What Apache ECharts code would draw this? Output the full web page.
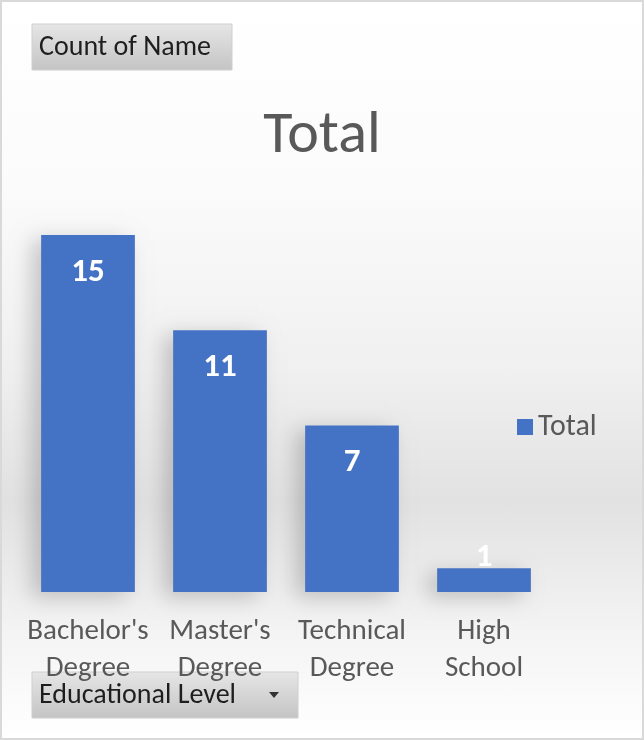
<!DOCTYPE html>
<html><head><meta charset="utf-8">
<script src="https://cdn.jsdelivr.net/npm/echarts@6/dist/echarts.min.js"></script>
<style>
html,body{margin:0;padding:0;background:#fff;}
#wrap{position:absolute;left:0;top:0;width:640px;height:736px;border:2px solid #d9d9d9;
background:linear-gradient(to bottom,#ffffff 0%,#fbfbfb 25%,#f0f0f0 50%,#e2e2e2 68%,#f3f3f3 85%,#ffffff 100%);}
#chart{width:640px;height:736px;}
</style></head>
<body><div id="wrap"><div id="chart"></div></div>
<script>
const categories = ["Bachelor's Degree", "Master's Degree", "Technical Degree", "High School"];
const totals = [15, 11, 7, 1];
const seriesName = "Total";
const FONT = "Carlito, 'Liberation Sans Narrow', 'DejaVu Sans Condensed', sans-serif";

const chart = echarts.init(document.getElementById('chart'), null, {renderer:'canvas'});
const data = totals.map(v => v < 3 ? {value: v, label: {position: 'top', distance: -6}} : v);

function button(x, y, w, h, text, arrow) {
  const children = [
    {type:'rect', shape:{x:0,y:0,width:w,height:h},
     style:{fill:new echarts.graphic.LinearGradient(0,0,0,1,[{offset:0,color:'#e6e6e6'},{offset:1,color:'#c4c4c4'}]), stroke:'#cfcfcf', lineWidth:1}},
    {type:'text', x:7, y:h/2+1, style:{text:text, font:'28px '+FONT, fill:'#1e1e1e', textVerticalAlign:'middle'}}
  ];
  if (arrow) children.push({type:'polygon', shape:{points:[[w-29,h/2-3],[w-19,h/2-3],[w-24,h/2+3]]}, style:{fill:'#333'}});
  return {type:'group', x:x, y:y, z:100, children:children};
}

chart.setOption({
  animation:false,
  backgroundColor:'transparent',
  title:{text:'Total', left:'center', top:100, textStyle:{fontFamily:FONT, fontSize:60, fontWeight:'normal', color:'#595959'}},
  legend:{left:510, top:405, itemWidth:16, itemHeight:16, itemGap:8,
    textStyle:{fontFamily:FONT, fontSize:30, color:'#595959'}, data:[seriesName], icon:'rect'},
  grid:{left:20, right:92, top:233, bottom:146},
  xAxis:{type:'category', data:categories, axisLine:{show:false}, axisTick:{show:false},
    axisLabel:{fontFamily:FONT, fontSize:29, color:'#595959', lineHeight:37, margin:21, interval:0,
      formatter: s => s.replace(' ', '\n')}},
  yAxis:{type:'value', min:0, max:15, show:false, splitLine:{show:false}},
  series:[{name:seriesName, type:'bar', data:data, barWidth:'71%',
    itemStyle:{color:'#4472c4', shadowColor:'rgba(0,0,0,0.2)', shadowBlur:20, shadowOffsetX:-9, shadowOffsetY:5},
    label:{show:true, position:'insideTop', distance:21, fontFamily:FONT, fontSize:33, fontWeight:'bold', color:'#ffffff'}}],
  graphic:[button(30,22,200,46,'Count of Name',false), button(30,670,266,46,'Educational Level',true)]
});
</script></body></html>
